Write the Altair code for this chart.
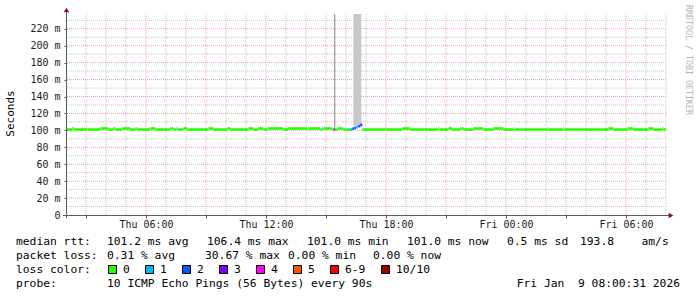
import altair as alt
import pandas as pd

# ---------------- data ----------------
# median RTT as a step series: each run starts at run_start and lasts until the next one
run_start = [
    "Thu 02:03", "Thu 02:19", "Thu 02:25", "Thu 03:01", "Thu 03:04", "Thu 03:43", "Thu 04:07",
    "Thu 04:22", "Thu 04:28", "Thu 04:49", "Thu 05:13", "Thu 05:28", "Thu 05:34", "Thu 06:13",
    "Thu 06:28", "Thu 07:13", "Thu 07:22", "Thu 07:31", "Thu 07:34", "Thu 07:52", "Thu 08:04",
    "Thu 09:07", "Thu 09:22", "Thu 10:04", "Thu 10:13", "Thu 11:07", "Thu 11:22", "Thu 11:37",
    "Thu 11:52", "Thu 12:04", "Thu 12:52", "Thu 13:07", "Thu 14:04", "Thu 14:07", "Thu 14:43",
    "Thu 14:49", "Thu 14:52", "Thu 15:19", "Thu 15:22", "Thu 15:28", "Thu 15:34", "Thu 15:52",
    "Thu 16:13", "Thu 16:19", "Thu 16:25", "Thu 16:31", "Thu 16:37", "Thu 16:43", "Thu 16:49",
    "Thu 17:58", "Thu 18:01", "Thu 18:49", "Thu 19:13", "Thu 20:37", "Thu 20:40", "Thu 21:07",
    "Thu 21:19", "Thu 21:43", "Thu 21:52", "Thu 22:22", "Thu 22:52", "Thu 23:22", "Thu 23:52",
    "Fri 00:22", "Fri 00:25", "Fri 02:04", "Fri 02:07", "Fri 02:52", "Fri 02:55", "Fri 05:07",
    "Fri 05:22", "Fri 06:04", "Fri 06:22", "Fri 07:07", "Fri 07:22", "Fri 07:49", "Fri 07:52",
]
run_rtt = [
    101.0, 102.2, 101.0, 102.2, 101.0, 102.2, 101.0,
    102.2, 101.0, 102.2, 101.0, 102.2, 101.0, 102.2,
    101.0, 102.2, 101.0, 102.2, 101.0, 102.2, 101.0,
    102.2, 101.0, 102.2, 101.0, 102.2, 101.0, 102.2,
    101.0, 102.2, 101.0, 102.2, 101.0, 102.2, 101.0,
    102.2, 102.2, 101.0, 101.0, 101.0, 102.2, 101.0,
    101.0, 102.0, 103.0, 104.0, 105.0, 106.4, 101.0,
    102.2, 101.0, 102.2, 101.0, 102.2, 101.0, 102.2,
    101.0, 102.2, 101.0, 102.2, 101.0, 102.2, 101.0,
    102.2, 101.0, 102.2, 101.0, 102.2, 101.0, 102.2,
    101.0, 102.2, 101.0, 102.2, 101.0, 102.2, 101.0,
]
run_loss = [
    "0", "0", "0", "0", "0", "0", "0",
    "0", "0", "0", "0", "0", "0", "0",
    "0", "0", "0", "1", "0", "0", "0",
    "0", "0", "0", "0", "0", "0", "0",
    "0", "0", "0", "0", "0", "0", "0",
    "1", "0", "0", "4", "0", "0", "0",
    "1", "2", "2", "1", "2", "3", "0",
    "0", "0", "0", "0", "0", "0", "0",
    "0", "0", "0", "0", "0", "0", "0",
    "0", "0", "0", "0", "0", "0", "0",
    "0", "0", "0", "0", "0", "0", "0",
]
series_end = "Fri 08:00"

# smoke (spread of the individual pings)
smoke_start = ["Thu 15:24", "Thu 16:22"]
smoke_end = ["Thu 15:28", "Thu 16:46"]
smoke_low = [101.0, 105.5]
smoke_high = [400.0, 400.0]
smoke_density = ["dense", "light"]

loss_labels = ["0", "1", "2", "3", "4", "5", "6-9", "10/10"]

y_major = [0, 20, 40, 60, 80, 100, 120, 140, 160, 180, 200, 220]
y_minor = [10, 30, 50, 70, 90, 110, 130, 150, 170, 190, 210, 230]
x_major = [3, 6, 9, 12, 15, 18, 21, 24, 27, 30]
x_minor = [4, 5, 7, 8, 10, 11, 13, 14, 16, 17, 19, 20, 22, 23, 25, 26, 28, 29, 31, 32]
x_labels = [6, 12, 18, 24, 30]

rtt_stats = ["101.2 ms avg", "106.4 ms max", "101.0 ms min", "101.0 ms now", "0.5 ms sd", "193.8", "am/s"]
loss_stats = ["0.31 % avg", "30.67 % max", "0.00 % min", "0.00 % now"]
probe_text = "10 ICMP Echo Pings (56 Bytes) every 90s"
stamp_text = "Fri Jan  9 08:00:31 2026"

# ---------------- styling / layout ----------------
LOSS_COLORS = ["#26ff00", "#00b8ff", "#0059ff", "#7e00ff", "#ff00ff", "#ff5500", "#ff0000", "#a10000"]
SMOKE_COLORS = {"dense": "#a4a4a4", "light": "#c8c8c8"}
MONO = "DejaVu Sans Mono"
PL, PT, W, H = 66, 14, 600, 201
Y_MAX = 237.5
FS = 11.3


def hrs(s):
    day, hm = s.split()
    h, m = hm.split(":")
    return (24 if day == "Fri" else 0) + int(h) + int(m) / 60.0


def nb(s):
    return s.replace(" ", "\u00a0")


runs = pd.DataFrame({
    "t0": [hrs(s) for s in run_start],
    "t1": [hrs(s) for s in run_start[1:]] + [hrs(series_end)],
    "rtt": run_rtt,
    "loss": run_loss,
})
smoke = pd.DataFrame({
    "t0": [hrs(s) for s in smoke_start],
    "t1": [hrs(s) for s in smoke_end],
    "lo": smoke_low,
    "hi": smoke_high,
    "shade": smoke_density,
})

xscale = alt.Scale(domain=[2, 32], nice=False, zero=False)
yscale = alt.Scale(domain=[0, Y_MAX], nice=False, zero=False)

xaxis = alt.Axis(
    values=x_major, grid=False, domain=False, tickSize=3, tickColor="#555555",
    labelExpr="indexof([6,12,18,24,30], datum.value) < 0 ? '' : "
              "((datum.value < 24 ? 'Thu\u00a0' : 'Fri\u00a0') + "
              "(datum.value % 24 < 10 ? '0' : '') + (datum.value % 24) + ':00')",
    labelFont=MONO, labelFontSize=10, labelColor="#222222", labelBaseline="middle",
    labelPadding=6, title=None, labelFlush=False, labelOverlap=False,
)
yaxis = alt.Axis(
    values=y_major, grid=False, domain=False, tickSize=2, tickColor="#555555",
    labelExpr="datum.value == 0 ? '0\u00a0\u00a0' : datum.value + '\u00a0m'",
    labelFont=MONO, labelFontSize=10, labelColor="#222222", labelBaseline="middle",
    labelPadding=4, title=None, labelFlush=False, labelOverlap=False,
)

layers = []

# grid
layers.append(alt.Chart(pd.DataFrame({"v": y_minor})).mark_rule(
    stroke="#c4c4c4", strokeDash=[1, 1], strokeWidth=1).encode(
    y=alt.Y("v:Q", scale=yscale, axis=yaxis)))
layers.append(alt.Chart(pd.DataFrame({"v": x_minor})).mark_rule(
    stroke="#c4c4c4", strokeDash=[1, 1], strokeWidth=1).encode(
    x=alt.X("v:Q", scale=xscale, axis=xaxis)))
layers.append(alt.Chart(pd.DataFrame({"v": y_major[1:]})).mark_rule(
    stroke="#f0a0a0", strokeDash=[1, 1], strokeWidth=1).encode(
    y=alt.Y("v:Q", scale=yscale, axis=yaxis)))
layers.append(alt.Chart(pd.DataFrame({"v": x_major})).mark_rule(
    stroke="#f0a0a0", strokeDash=[1, 1], strokeWidth=1).encode(
    x=alt.X("v:Q", scale=xscale, axis=xaxis)))

# smoke (fill channel, its own scale)
layers.append(alt.Chart(smoke).mark_rect(clip=True, strokeWidth=0).encode(
    x=alt.X("t0:Q", scale=xscale, axis=xaxis), x2="t1:Q",
    y=alt.Y("lo:Q", scale=yscale, axis=yaxis), y2="hi:Q",
    fill=alt.Fill("shade:N", scale=alt.Scale(domain=list(SMOKE_COLORS.keys()),
                                             range=list(SMOKE_COLORS.values())), legend=None)))

# median line coloured by loss (stroke channel)
layers.append(alt.Chart(runs).mark_rule(strokeWidth=2.6).encode(
    x=alt.X("t0:Q", scale=xscale, axis=xaxis), x2="t1:Q",
    y=alt.Y("rtt:Q", scale=yscale, axis=yaxis),
    stroke=alt.Stroke("loss:N", scale=alt.Scale(domain=loss_labels, range=LOSS_COLORS), legend=None)))

dummy = pd.DataFrame({"a": [0]})
AXC = "#5a5a5a"
ARROW = "#8b1010"
# axis lines
layers.append(alt.Chart(dummy).mark_rule(stroke=AXC, strokeWidth=1).encode(
    x=alt.value(0.5), y=alt.value(-3), y2=alt.value(H + 3)))
layers.append(alt.Chart(dummy).mark_rule(stroke=AXC, strokeWidth=1).encode(
    x=alt.value(-3), x2=alt.value(W + 4), y=alt.value(H + 0.5)))
# arrows
layers.append(alt.Chart(dummy).mark_point(shape="triangle-up", filled=True, size=30,
                                          color=ARROW, opacity=1).encode(
    x=alt.value(0.5), y=alt.value(-4)))
layers.append(alt.Chart(dummy).mark_point(shape="triangle-right", filled=True, size=30,
                                          color=ARROW, opacity=1).encode(
    x=alt.value(W + 5), y=alt.value(H + 0.5)))


def text(s, xa, ya, align="left", size=FS, color="#000000", angle=0, font=MONO):
    kw = dict(align=align, baseline="middle", font=font, fontSize=size, color=color)
    if angle:
        kw["angle"] = angle
    return alt.Chart(dummy).mark_text(**kw).encode(
        x=alt.value(xa - PL), y=alt.value(ya - PT), text=alt.value(nb(s)))


# y title and watermark
layers.append(text("Seconds", 11, 113.5, align="center", size=11.0, angle=270))
layers.append(text("RRDTOOL / TOBI OETIKER", 687.5, 60, align="center", size=8.3,
                   color="#b4b4b4", angle=90))

# legend rows
r1, r2, r3, r4 = 241.5, 255.5, 269.5, 283.5
layers.append(text("median rtt:", 16, r1))
for s, xa in zip(rtt_stats, [107, 207, 307, 407, 507, 580, 641.5]):
    layers.append(text(s, xa, r1))
layers.append(text("packet loss:", 16, r2))
for s, xa in zip(loss_stats, [107, 205, 288, 373]):
    layers.append(text(s, xa, r2))
layers.append(text("loss color:", 16, r3))
sx = 108
for lab, col in zip(loss_labels, LOSS_COLORS):
    layers.append(alt.Chart(dummy).mark_rect(fill=col, stroke="#000000", strokeWidth=1).encode(
        x=alt.value(sx - PL + 0.5), x2=alt.value(sx - PL + 8.5),
        y=alt.value(r3 - 4 - PT), y2=alt.value(r3 + 4 - PT)))
    layers.append(text(lab, sx + 15, r3))
    sx = sx + 15 + 7 * len(lab) + 15
layers.append(text("probe:", 16, r4))
layers.append(text(probe_text, 107, r4))
layers.append(text(stamp_text, 680, r4, align="right"))

chart = alt.layer(*layers).properties(
    width=W, height=H,
    autosize=alt.AutoSizeParams(type="none"),
    padding={"left": PL, "top": PT, "right": 697 - PL - W, "bottom": 297 - PT - H},
    background="#ffffff",
).configure_view(strokeWidth=0)

chart.save("out.html", embed_options={"renderer": "svg", "actions": False})
